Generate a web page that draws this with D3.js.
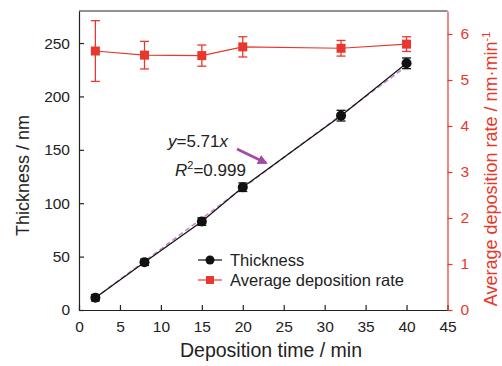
<!DOCTYPE html>
<html>
<head>
<meta charset="utf-8">
<script src="https://cdn.jsdelivr.net/npm/d3@7"></script>
<style>
  body { margin: 0; background: #fff; }
  svg text { font-family: "Liberation Sans", Arial, sans-serif; }
</style>
</head>
<body>
<div id="chart"></div>
<script>
// deposition time (min)
var times = [2, 8, 15, 20, 32, 40];
// thickness (nm) and its error
var thickness = [11.5, 44.7, 82.8, 115, 182, 231];
var thicknessErr = [3, 3, 3.5, 4, 5, 5];
// average deposition rate (nm/min) and its error
var rate = [5.63, 5.54, 5.53, 5.72, 5.69, 5.78];
var rateErr = [0.66, 0.3, 0.23, 0.22, 0.17, 0.16];
var slope = 5.71;

var xTicks = [0, 5, 10, 15, 20, 25, 30, 35, 40, 45];
var yTicks = [0, 50, 100, 150, 200, 250];
var y2Ticks = [0, 1, 2, 3, 4, 5, 6];

var width = 502, height = 366
  , red = "#e8382d"
  , purple = "#a24aa6";

var svg = d3.select("#chart").append("svg")
  .attr("width", width)
  .attr("height", height);

var x = d3.scaleLinear().domain([0, 45]).range([79, 447.5]);
var y = d3.scaleLinear().domain([0, 280]).range([310, 11]);
var y2 = d3.scaleLinear().domain([0, 6.5]).range([310, 11]);

// frame: top
svg.append("line")
  .attr("x1", x(0)).attr("x2", x(45))
  .attr("y1", y(280)).attr("y2", y(280))
  .style("stroke", "#222").style("stroke-width", 1.2);

// bottom axis (ticks inward)
var gx = svg.append("g")
  .attr("transform", "translate(0," + y(0) + ")")
  .call(d3.axisBottom(x).tickValues(xTicks).tickSizeInner(-5).tickSizeOuter(0).tickPadding(11));
// left axis (ticks inward)
var gy = svg.append("g")
  .attr("transform", "translate(" + x(0) + ",0)")
  .call(d3.axisLeft(y).tickValues(yTicks).tickSizeInner(-5).tickSizeOuter(0).tickPadding(9));
// right axis (red, ticks outward)
var gy2 = svg.append("g")
  .attr("transform", "translate(" + x(45) + ",0)")
  .call(d3.axisRight(y2).tickValues(y2Ticks).tickFormat(d3.format("d"))
    .tickSizeInner(5).tickSizeOuter(0).tickPadding(8));

[gx, gy].forEach(function (g) {
  g.select(".domain").style("stroke", "#222").style("stroke-width", 1.2);
  g.selectAll(".tick line").style("stroke", "#222").style("stroke-width", 1.2);
  g.selectAll(".tick text").style("font-size", "15.5px").style("fill", "#222");
});
gy2.select(".domain").style("stroke", red).style("stroke-width", 1.2);
gy2.selectAll(".tick line").style("stroke", red).style("stroke-width", 1.2);
gy2.selectAll(".tick text").style("font-size", "15.5px").style("fill", red);

// axis titles
svg.append("text")
  .attr("x", 271).attr("y", 357)
  .attr("text-anchor", "middle")
  .style("font-size", "19.5px").style("fill", "#222")
  .text("Deposition time / min");

svg.append("text")
  .attr("transform", "translate(29," + ((y(0) + y(280)) / 2 + 15) + ") rotate(-90)")
  .attr("text-anchor", "middle")
  .style("font-size", "18px").style("fill", "#222")
  .text("Thickness / nm");

var t2 = svg.append("text")
  .attr("transform", "translate(497,169) rotate(-90)")
  .attr("text-anchor", "middle")
  .style("font-size", "18px").style("fill", red);
t2.append("tspan").text("Average deposition rate / nm\u00b7min");
t2.append("tspan").attr("dy", -7).style("font-size", "11px").text("-1");

// rate series
var rateLine = d3.line()
  .x(function (d, i) { return x(times[i]); })
  .y(function (d) { return y2(d); });
svg.append("path")
  .datum(rate)
  .attr("d", rateLine)
  .style("fill", "none").style("stroke", red).style("stroke-width", 1.2);

var rateErrG = svg.append("g").selectAll("g")
    .data(rate)
  .enter().append("g")
    .style("stroke", red).style("stroke-width", 1.3);
rateErrG.append("line")
  .attr("x1", function (d, i) { return x(times[i]); })
  .attr("x2", function (d, i) { return x(times[i]); })
  .attr("y1", function (d, i) { return y2(d + rateErr[i]); })
  .attr("y2", function (d, i) { return y2(d - rateErr[i]); });
[1, -1].forEach(function (s) {
  rateErrG.append("line")
    .attr("x1", function (d, i) { return x(times[i]) - 4.5; })
    .attr("x2", function (d, i) { return x(times[i]) + 4.5; })
    .attr("y1", function (d, i) { return y2(d + s * rateErr[i]); })
    .attr("y2", function (d, i) { return y2(d + s * rateErr[i]); });
});
svg.append("g").selectAll("rect")
    .data(rate)
  .enter().append("rect")
    .attr("x", function (d, i) { return x(times[i]) - 4.5; })
    .attr("y", function (d) { return y2(d) - 4.5; })
    .attr("width", 9).attr("height", 9)
    .style("fill", red);

// fit line (dashed purple)
svg.append("line")
  .attr("x1", x(times[0])).attr("y1", y(slope * times[0]))
  .attr("x2", x(times[times.length - 1])).attr("y2", y(slope * times[times.length - 1]))
  .style("stroke", "#c58bc8").style("stroke-width", 1.6).style("stroke-dasharray", "5,3");

// thickness series
var thLine = d3.line()
  .x(function (d, i) { return x(times[i]); })
  .y(function (d) { return y(d); });
svg.append("path")
  .datum(thickness)
  .attr("d", thLine)
  .style("fill", "none").style("stroke", "#111").style("stroke-width", 1.2);

var thErrG = svg.append("g").selectAll("g")
    .data(thickness)
  .enter().append("g")
    .style("stroke", "#111").style("stroke-width", 1.3);
thErrG.append("line")
  .attr("x1", function (d, i) { return x(times[i]); })
  .attr("x2", function (d, i) { return x(times[i]); })
  .attr("y1", function (d, i) { return y(d + thicknessErr[i]); })
  .attr("y2", function (d, i) { return y(d - thicknessErr[i]); });
[1, -1].forEach(function (s) {
  thErrG.append("line")
    .attr("x1", function (d, i) { return x(times[i]) - 4.5; })
    .attr("x2", function (d, i) { return x(times[i]) + 4.5; })
    .attr("y1", function (d, i) { return y(d + s * thicknessErr[i]); })
    .attr("y2", function (d, i) { return y(d + s * thicknessErr[i]); });
});
svg.append("g").selectAll("circle")
    .data(thickness)
  .enter().append("circle")
    .attr("cx", function (d, i) { return x(times[i]); })
    .attr("cy", function (d) { return y(d); })
    .attr("r", 5)
    .style("fill", "#111");

// annotation
var eq = svg.append("text")
  .attr("x", 168).attr("y", 147)
  .style("font-size", "17px").style("fill", "#222");
eq.append("tspan").style("font-style", "italic").text("y");
eq.append("tspan").text("=5.71");
eq.append("tspan").style("font-style", "italic").text("x");

var r2 = svg.append("text")
  .attr("x", 175).attr("y", 176)
  .style("font-size", "17px").style("fill", "#222");
r2.append("tspan").style("font-style", "italic").text("R");
r2.append("tspan").attr("dy", -7).style("font-size", "11px").text("2");
r2.append("tspan").attr("dy", 7).text("=0.999");

svg.append("defs").append("marker")
    .attr("id", "arrow")
    .attr("viewBox", "0 0 10 10")
    .attr("refX", 8).attr("refY", 5)
    .attr("markerWidth", 4).attr("markerHeight", 4)
    .attr("orient", "auto")
  .append("path")
    .attr("d", "M0,0 L10,5 L0,10 z")
    .style("fill", purple);
svg.append("line")
  .attr("x1", 237).attr("y1", 149)
  .attr("x2", 266).attr("y2", 163)
  .attr("marker-end", "url(#arrow)")
  .style("stroke", purple).style("stroke-width", 2.5);

// legend
var legend = svg.append("g");
var legItems = [
  { label: "Thickness", color: "#111", shape: "circle" }
, { label: "Average deposition rate", color: red, shape: "square" }
];
legItems.forEach(function (d, i) {
  var ly = 260 + i * 20;
  legend.append("line")
    .attr("x1", 198).attr("x2", 222).attr("y1", ly).attr("y2", ly)
    .style("stroke", d.color).style("stroke-width", 1.2);
  if (d.shape === "circle") {
    legend.append("circle").attr("cx", 210).attr("cy", ly).attr("r", 4.5).style("fill", d.color);
  } else {
    legend.append("rect").attr("x", 206).attr("y", ly - 4).attr("width", 8).attr("height", 8).style("fill", d.color);
  }
  legend.append("text")
    .attr("x", 230).attr("y", ly + 5.5)
    .style("font-size", "16.5px").style("fill", "#222")
    .text(d.label);
});
</script>
</body>
</html>
